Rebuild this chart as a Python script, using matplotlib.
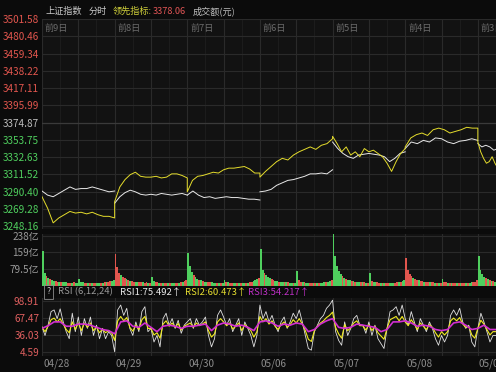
import numpy as np
import matplotlib
matplotlib.use("Agg")
import matplotlib.pyplot as plt
import matplotlib.transforms as mtransforms

plt.rcParams['font.family'] = ['Noto Sans CJK SC', 'DejaVu Sans']

W, H = 496, 372

# ---- axis labels ----
price_ticks = [3501.58, 3480.46, 3459.34, 3438.22, 3417.11, 3395.99, 3374.87,
               3353.75, 3332.63, 3311.52, 3290.40, 3269.28, 3248.16]
prev_close = 3374.87
vol_ticks = [79.5, 159, 238]
vol_tick_labels = ['79.5亿', '159亿', '238亿']
rsi_ticks = [4.59, 36.03, 67.47, 98.91]
day_labels = ['前9日', '前8日', '前7日', '前6日', '前5日', '前4日', '前3日']
date_labels = ['04/28', '04/29', '04/30', '05/06', '05/07', '05/08', '05/09']

# ---- minute lines, one list per day (last day only partly visible) ----
index_days = [
    [3291, 3286, 3284, 3288, 3292, 3296, 3293, 3294, 3294, 3296, 3294, 3292, 3290, 3291],
    [3276, 3284, 3289, 3292, 3290, 3287, 3286, 3287, 3286, 3288, 3287, 3286, 3287, 3288, 3286],
    [3286, 3291, 3286, 3283, 3284, 3282, 3283, 3284, 3283, 3283, 3282, 3281, 3281, 3280],
    [3290, 3291, 3293, 3298, 3301, 3304, 3305, 3307, 3309, 3312, 3312, 3313, 3312, 3317],
    [3351, 3343, 3337, 3333, 3331, 3335, 3336, 3337, 3336, 3335, 3333, 3327, 3331, 3337, 3339],
    [3343, 3351, 3349, 3353, 3351, 3356, 3355, 3351, 3349, 3352, 3353, 3355, 3353],
    [3349, 3345, 3347, 3345, 3341, 3343],
]
lead_days = [
    [3284, 3270, 3252, 3258, 3262, 3266, 3264, 3265, 3263, 3265, 3262, 3260, 3260, 3258],
    [3278, 3296, 3305, 3311, 3314, 3309, 3308, 3308, 3309, 3307, 3308, 3312, 3312, 3310, 3307],
    [3290, 3304, 3309, 3310, 3312, 3314, 3313, 3317, 3319, 3319, 3320, 3321, 3318, 3313, 3313],
    [3308, 3315, 3321, 3327, 3331, 3329, 3335, 3339, 3342, 3345, 3342, 3347, 3349, 3355],
    [3358, 3349, 3339, 3345, 3335, 3339, 3333, 3343, 3339, 3341, 3337, 3333, 3325, 3315, 3327, 3337, 3343],
    [3345, 3356, 3360, 3362, 3359, 3366, 3368, 3366, 3362, 3364, 3366, 3369, 3368, 3368],
    [3351, 3339, 3331, 3325, 3327, 3333, 3325, 3319],
]
day_spans = [240, 240, 240, 240, 240, 240, 66]

# ---- turnover (亿), 6-minute bars ----
vol_days = [
    [163, 62, 45, 36, 30, 26, 22, 20, 18, 17, 16, 15, 15, 16, 14, 13, 14, 15, 13, 14,
     30, 18, 15, 14, 13, 12, 13, 14, 12, 12, 13, 12, 14, 13, 15, 16, 18, 20, 22, 26],
    [150, 86, 62, 48, 40, 34, 29, 26, 23, 21, 19, 18, 17, 16, 16, 15, 14, 15, 14, 13,
     40, 20, 17, 15, 14, 14, 13, 13, 12, 13, 12, 12, 13, 12, 13, 14, 15, 17, 20, 24],
    [156, 92, 66, 50, 40, 32, 27, 24, 21, 19, 18, 17, 16, 15, 14, 14, 13, 14, 13, 13,
     28, 18, 15, 14, 13, 12, 12, 13, 12, 12, 12, 13, 12, 14, 15, 17, 20, 24, 30, 36],
    [175, 76, 60, 48, 40, 34, 30, 26, 23, 21, 19, 18, 17, 16, 15, 15, 14, 14, 13, 14,
     67, 24, 18, 16, 15, 14, 14, 13, 13, 12, 13, 12, 13, 14, 14, 15, 17, 19, 22, 28],
    [244, 139, 91, 70, 55, 45, 38, 32, 28, 25, 22, 20, 19, 18, 17, 16, 15, 15, 14, 14,
     59, 22, 18, 16, 15, 14, 14, 13, 14, 13, 12, 13, 12, 13, 14, 15, 16, 18, 21, 26],
    [131, 75, 56, 45, 38, 32, 28, 25, 22, 20, 19, 18, 17, 16, 15, 15, 14, 14, 13, 13,
     32, 18, 15, 14, 13, 13, 12, 12, 13, 12, 12, 12, 13, 12, 13, 14, 15, 17, 19, 24],
    [139, 75, 55, 42, 34, 29, 25, 22, 20, 19, 18, 17],
]
vol_up = [
    "ggrgrggrrg rgggrrgrgg gggrrgrgrr ggrgrgrrgg",
    "rrrgrrgrgr rggrrgrrgr ggrrgrgrrg rggrrgrgrr",
    "gggrggrgrg grrgggrgrg grgrrggrgr ggrgrrgggr",
    "ggrgggrrgg rggrgrggrg grrgrggrrg rgrgggrggr",
    "gggggrgrgg rgrggrgrgr grggrrgrgr rgggrrgrgg",
    "rrrrgrrgrr grrgrrgrgr grrgrgrrgr grrgrggrrr",
    "ggggrgrgrg rg",
]

# ---- RSI (6,12,24) ----
rsi1 = [51, 35, 54, 79, 82, 66, 84, 60, 42, 29, 76, 42, 69, 35, 66, 48, 69, 35, 54, 29,
        48, 29, 42, 35, 5, 82, 91, 72, 85, 48, 35, 60, 42, 79, 88, 42, 48, 23, 35, 14,
        66, 76, 54, 66, 48, 63, 39, 54, 60, 66, 48, 66, 54, 60, 69, 35, 14, 29, 72, 82,
        69, 54, 66, 42, 54, 66, 35, 60, 48, 35, 14, 35, 91, 66, 79, 60, 72, 54, 42, 60,
        69, 48, 60, 76, 66, 82, 60, 35, 11, 8, 42, 54, 66, 72, 85, 91, 100, 42, 26, 17,
        60, 35, 48, 66, 72, 54, 54, 39, 60, 35, 54, 29, 20, 11, 48, 79, 82, 88, 72, 91,
        66, 54, 79, 60, 42, 66, 54, 42, 60, 48, 29, 17, 35, 23, 35, 72, 82, 72, 85, 60,
        48, 54, 23, 14, 48, 76, 60, 42, 23, 35, 35]
rsi2 = [50, 42, 52, 64, 67, 60, 66, 56, 46, 40, 60, 46, 58, 44, 58, 50, 58, 44, 51, 40,
        47, 40, 44, 40, 26, 62, 70, 62, 68, 50, 43, 54, 46, 64, 70, 48, 48, 36, 40, 30,
        56, 62, 52, 58, 50, 57, 45, 52, 55, 58, 50, 58, 53, 56, 60, 44, 32, 38, 60, 66,
        60, 53, 58, 47, 52, 58, 44, 55, 50, 44, 32, 42, 70, 60, 66, 56, 62, 52, 46, 55,
        60, 50, 55, 64, 58, 66, 56, 44, 28, 24, 44, 52, 58, 62, 68, 72, 78, 50, 38, 30,
        55, 44, 49, 58, 62, 53, 53, 45, 55, 44, 52, 40, 34, 28, 48, 64, 67, 70, 62, 70,
        60, 53, 64, 56, 46, 58, 52, 46, 55, 50, 40, 32, 42, 36, 42, 62, 67, 62, 68, 56,
        50, 52, 36, 30, 48, 63, 56, 46, 36, 42, 42]
rsi3 = [48, 53, 60, 60, 52, 52, 56, 56, 54, 50, 46, 44, 38, 60, 62, 52, 50, 58, 50, 42,
        52, 54, 52, 48, 52, 52, 54, 56, 44, 54, 58, 56, 52, 54, 50, 44, 60, 62, 58, 52,
        56, 54, 58, 56, 42, 46, 56, 62, 66, 50, 48, 50, 56, 54, 52, 50, 42, 46, 60, 60,
        62, 58, 52, 54, 52, 46, 44, 46, 58, 60, 54, 46, 48, 54, 46, 46]

BG = '#0b0b0b'
PANEL = '#121212'
GRID = '#2a2a2a'
GRID_MINOR = '#1c1c1c'
RED = '#e2564e'
GREEN = '#4fcf5e'
XMAX = 1500

fig = plt.figure(figsize=(W / 100, H / 100), dpi=100, facecolor=BG)


def add_panel(top, bottom):
    ax = fig.add_axes([42 / W, 1 - bottom / H, 1 - 42 / W, (bottom - top) / H])
    ax.set_facecolor(PANEL)
    ax.set_xlim(0, XMAX)
    ax.set_xticks(np.arange(0, XMAX + 1, 120))
    ax.set_xticks(np.arange(60, XMAX + 1, 120), minor=True)
    ax.tick_params(axis='x', which='both', length=0, labelbottom=False)
    ax.tick_params(axis='y', length=0, pad=2, labelsize=7.2)
    ax.grid(True, which='major', color=GRID, lw=0.8)
    ax.grid(True, which='minor', axis='x', color=GRID_MINOR, lw=0.8)
    ax.set_axisbelow(True)
    for s in ax.spines.values():
        s.set_visible(False)
    return ax


ax = add_panel(19, 229)
axv = add_panel(234, 285.5)
axr = add_panel(298, 356)

# main panel
ax.set_ylim(3244.5, 3501.58)
ax.set_yticks(price_ticks)
ax.set_yticklabels([f'{v:.2f}' for v in price_ticks])
for lab, v in zip(ax.get_yticklabels(), price_ticks):
    lab.set_color(RED if v > prev_close + 0.01 else (GREEN if v < prev_close - 0.01 else '#bdbdbd'))
ax.axhline(prev_close, color='#3a3a3a', lw=0.9, zorder=1)

lead_x, lead_y = [], []
for d, (wv, yv, span) in enumerate(zip(index_days, lead_days, day_spans)):
    xw = d * 240 + np.linspace(0, span, len(wv))
    ax.plot(xw, wv, color='#e8e8e8', lw=0.7)
    lead_x.extend(d * 240 + np.linspace(0, span, len(yv)))
    lead_y.extend(yv)
ax.plot(lead_x, lead_y, color='#e4dc2c', lw=0.7)

off = mtransforms.offset_copy(ax.get_xaxis_transform(), fig=fig, x=3, y=-9, units='dots')
for d, lab in enumerate(day_labels):
    ax.text(d * 240, 1.0, lab, transform=off, color='#6a6a6a', fontsize=6.6,
            ha='left', va='center', clip_on=False)

# turnover panel
axv.set_ylim(0, 246)
axv.set_yticks(vol_ticks)
axv.set_yticklabels(vol_tick_labels, color='#9a9a9a')
for d, (vals, cols) in enumerate(zip(vol_days, vol_up)):
    cols = cols.replace(' ', '')
    xs = d * 240 + 6 * np.arange(len(vals)) + 3
    axv.bar(xs, vals, width=6, color=[RED if c == 'r' else GREEN for c in cols],
            linewidth=0, zorder=2)

# RSI panel
axr.set_ylim(-2.8, 104)
axr.set_yticks(rsi_ticks)
axr.set_yticklabels([f'{v:.2f}' for v in rsi_ticks], color='#e06060')
axr.plot(np.arange(len(rsi1)) * 10, rsi1, color='#e0e0e0', lw=0.6, zorder=3)
axr.plot(np.arange(len(rsi2)) * 10, rsi2, color='#f0ea20', lw=0.8, zorder=4)
axr.plot(np.arange(len(rsi3)) * 20, rsi3, color='#d22ed2', lw=1.2, zorder=5)

offd = mtransforms.offset_copy(axr.get_xaxis_transform(), fig=fig, x=1, y=-8, units='dots')
for d, lab in enumerate(date_labels):
    axr.text(d * 240, 0, lab, transform=offd, color='#8c8c8c', fontsize=7.2,
             ha='left', va='center', clip_on=False)


def ftext(x, y, s, color, size=6.6, **kw):
    fig.text(x / W, 1 - y / H, s, color=color, fontsize=size, ha='left', va='center', **kw)


# header
ftext(45, 11, '上证指数', '#c8c8c8')
ftext(89, 11, '分时', '#c8c8c8')
ftext(113, 11, '领先指标:', '#cfcf3a')
ftext(153, 11, '3378.06', '#e05555')
ftext(193, 11, '成交额(元)', '#bdbdbd')

# RSI header
ftext(46.5, 292, '?', '#c8c8c8', size=6.2,
      bbox=dict(boxstyle='square,pad=0.25', fc='none', ec='#8a8a8a', lw=0.6))
ftext(58, 292, 'RSI (6,12,24)', '#9a9a9a', size=6.8)
ftext(120, 292, 'RSI1:75.492↑', '#ececec', size=6.8)
ftext(185, 292, 'RSI2:60.473↑', '#e8e030', size=6.8)
ftext(248, 292, 'RSI3:54.217↑', '#c030c8', size=6.8)

fig.savefig('out.png', dpi=100, facecolor=BG)
